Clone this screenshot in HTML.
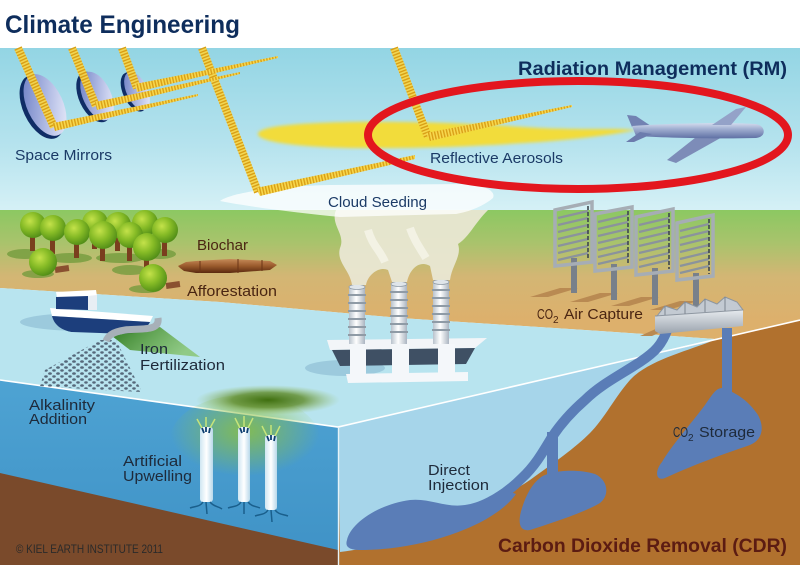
<!DOCTYPE html>
<html><head><meta charset="utf-8"><style>
html,body{margin:0;padding:0;background:#fff;}
svg{display:block;}
text{font-family:"Liberation Sans",sans-serif;}
</style></head><body>
<svg width="800" height="565" viewBox="0 0 800 565" xmlns="http://www.w3.org/2000/svg">
<defs>
  <linearGradient id="sky" x1="0" y1="48" x2="0" y2="212" gradientUnits="userSpaceOnUse">
    <stop offset="0" stop-color="#93d5e4"/><stop offset="0.6" stop-color="#b6e3ee"/><stop offset="1" stop-color="#d6f1f6"/>
  </linearGradient>
  <linearGradient id="land" x1="0" y1="210" x2="0" y2="320" gradientUnits="userSpaceOnUse">
    <stop offset="0" stop-color="#8cc862"/><stop offset="0.3" stop-color="#a9c36c"/><stop offset="0.6" stop-color="#d3b674"/><stop offset="1" stop-color="#ddb06c"/>
  </linearGradient>
  <linearGradient id="leftface" x1="0" y1="380" x2="0" y2="560" gradientUnits="userSpaceOnUse">
    <stop offset="0" stop-color="#4ea3d3"/><stop offset="1" stop-color="#3f92c6"/>
  </linearGradient>
  <linearGradient id="mir" x1="0" y1="0" x2="1" y2="1">
    <stop offset="0" stop-color="#6276c0"/><stop offset="0.7" stop-color="#c9d0ee"/><stop offset="1" stop-color="#f2f4fc"/>
  </linearGradient>
  <radialGradient id="canopy" cx="0.38" cy="0.35" r="0.7">
    <stop offset="0" stop-color="#c4e24a"/><stop offset="0.5" stop-color="#86bb26"/><stop offset="1" stop-color="#4d8a16"/>
  </radialGradient>
  <linearGradient id="plane" x1="0" y1="0" x2="0" y2="1">
    <stop offset="0" stop-color="#d3dbee"/><stop offset="0.4" stop-color="#9eaccf"/><stop offset="1" stop-color="#5f70a4"/>
  </linearGradient>
  <radialGradient id="algae" cx="0.5" cy="0.5" r="0.5">
    <stop offset="0" stop-color="#3f6f10"/><stop offset="0.5" stop-color="#5f8a26" stop-opacity="0.8"/><stop offset="1" stop-color="#9cc060" stop-opacity="0"/>
  </radialGradient>
  <radialGradient id="glow" cx="0.5" cy="0.4" r="0.5">
    <stop offset="0" stop-color="#8cc040" stop-opacity="0.85"/><stop offset="1" stop-color="#8cc040" stop-opacity="0"/>
  </radialGradient>
  <linearGradient id="pipeW" x1="0" y1="0" x2="1" y2="0">
    <stop offset="0" stop-color="#cfe6f2"/><stop offset="0.5" stop-color="#ffffff"/><stop offset="1" stop-color="#b8d8ea"/>
  </linearGradient>
  <linearGradient id="chim" x1="0" y1="0" x2="1" y2="0">
    <stop offset="0" stop-color="#b8c2cc"/><stop offset="0.45" stop-color="#ffffff"/><stop offset="1" stop-color="#aab4c0"/>
  </linearGradient>
  <linearGradient id="log" x1="0" y1="0" x2="0" y2="1">
    <stop offset="0" stop-color="#c58a58"/><stop offset="0.5" stop-color="#9a5a2c"/><stop offset="1" stop-color="#5a2a10"/>
  </linearGradient>
  <linearGradient id="fert" x1="0" y1="0" x2="1" y2="0.4">
    <stop offset="0" stop-color="#2f7a22"/><stop offset="1" stop-color="#7fbf5a" stop-opacity="0.7"/>
  </linearGradient>
  <linearGradient id="bld" x1="0" y1="0" x2="0" y2="1">
    <stop offset="0" stop-color="#e6eaee"/><stop offset="1" stop-color="#9aa3ad"/>
  </linearGradient>
  <pattern id="stA" patternUnits="userSpaceOnUse" width="3" height="20" patternTransform="rotate(-13)">
    <rect width="3" height="20" fill="#f7d84e"/><rect width="1.4" height="20" fill="#d99f16"/>
  </pattern>
  <pattern id="dots" patternUnits="userSpaceOnUse" width="8" height="6">
    <ellipse cx="2" cy="1.5" rx="1.9" ry="1.3" fill="#56687a"/><ellipse cx="6" cy="4.5" rx="1.8" ry="1.2" fill="#56687a"/>
  </pattern>
  <filter id="blur1"><feGaussianBlur stdDeviation="1.5"/></filter>
</defs>

<rect x="0" y="0" width="800" height="565" fill="#ffffff"/>
<rect x="0" y="48" width="800" height="165" fill="url(#sky)"/>

<polygon points="0,210 800,210 800,320 715,339 600,331 400,318 220,302 0,288" fill="url(#land)"/>
<polygon points="0,288 220,302 400,318 600,331 715,339 338,427 0,380" fill="#b8e4ef"/>
<polygon points="0,380 338,427 338,565 0,565" fill="url(#leftface)"/>
<polygon points="0,473 338,550 338,565 0,565" fill="#7a4a2b"/>
<polygon points="338,427 800,320 800,565 338,565" fill="#b1712e"/>
<path d="M338,427 L712,341 C 690,350 650,360 632,378 C 618,392 605,418 590,433 C 575,448 555,462 530,480 C 512,492 480,510 447,527 C 420,538 390,545 340,552 Z" fill="#a6d5ea"/>
<polyline points="0,380 338,427 800,320" fill="none" stroke="#ffffff" stroke-width="1.6"/>
<line x1="338.5" y1="427" x2="338.5" y2="565" stroke="#e6f3f8" stroke-width="1.4"/>

<path d="M668,328 C 662,345 655,352 640,362 C 620,375 600,385 585,400 C 570,413 560,425 552,437 C 543,452 535,466 522,478 C 512,488 505,493 497,498" fill="none" stroke="#5a7db7" stroke-width="10"/>
<path d="M347,540 C 350,525 375,505 410,500 C 430,498 445,508 465,505 C 480,503 492,495 502,489 L 516,494 C 505,510 480,525 450,535 C 420,545 390,550 360,550 C 348,550 345,546 347,540 Z" fill="#5a7db7"/>
<rect x="547" y="432" width="11" height="48" fill="#5a7db7"/>
<path d="M540,478 C 548,471 575,468 595,474 C 608,480 610,495 600,503 C 585,512 555,522 530,530 C 518,532 518,520 522,508 C 526,495 532,484 540,478 Z" fill="#5a7db7"/>
<rect x="722" y="328" width="10" height="64" fill="#5a7db7"/>
<path d="M722,388 C 735,392 748,400 758,415 C 765,428 762,440 750,445 C 730,452 700,462 665,478 C 655,482 655,470 662,462 C 672,445 690,425 705,405 C 712,395 716,388 722,388 Z" fill="#5a7db7"/>

<ellipse cx="245" cy="440" rx="75" ry="45" fill="url(#glow)"/>
<ellipse cx="268" cy="400" rx="72" ry="15" fill="url(#algae)"/>
<g>
  <rect x="200" y="427" width="13" height="75" rx="3" fill="url(#pipeW)"/>
  <rect x="238" y="427" width="12" height="75" rx="3" fill="url(#pipeW)"/>
  <rect x="265" y="435" width="12" height="75" rx="3" fill="url(#pipeW)"/>
  <g stroke="#c6e47a" stroke-width="1.5" fill="none">
    <path d="M202,428 L197,419 M206,427 L206,417 M210,428 L215,419"/>
    <path d="M240,428 L235,418 M244,427 L244,416 M248,428 L253,418"/>
    <path d="M267,436 L262,426 M271,435 L271,425 M275,436 L280,426"/>
  </g>
  <g stroke="#0f3f70" stroke-width="1.8" fill="none">
    <path d="M202,428 L204,433 M206,427 L206,432 M210,428 L209,433"/>
    <path d="M240,428 L242,433 M244,427 L244,432 M248,428 L247,433"/>
    <path d="M267,436 L269,441 M271,435 L271,440 M275,436 L274,441"/>
  </g>
  <g stroke="#1a5f8c" stroke-width="1.5" fill="none">
    <path d="M203,502 C 200,507 195,506 190,508 M206,502 L207,514 M210,502 C 214,507 218,506 222,509"/>
    <path d="M241,502 C 238,507 233,506 228,508 M244,502 L244,514 M248,502 C 252,507 256,506 260,508"/>
    <path d="M268,510 C 265,515 260,514 255,516 M271,510 L272,522 M275,510 C 279,515 283,514 288,516"/>
  </g>
</g>

<g fill="#b98a52">
  <polygon points="530,297 560,288 578,288 548,297"/>
  <polygon points="570,302 600,293 618,293 588,302"/>
  <polygon points="611,306 641,297 659,297 629,306"/>
  <polygon points="650,310 680,301 698,301 668,310"/>
  <polygon points="640,336 660,327 672,327 652,336"/>
</g>
<g>
  <g>
    <rect x="571" y="258" width="6" height="35" fill="#78808a"/>
    <polygon points="555,210 592,202 592,262 555,266" fill="none" stroke="#a6adb5" stroke-width="3.5"/>
    <g stroke="#8b939c" stroke-width="2.2"><line x1="558" y1="218" x2="588" y2="211"/><line x1="558" y1="225" x2="588" y2="218"/><line x1="558" y1="232" x2="588" y2="225"/><line x1="558" y1="239" x2="588" y2="232"/><line x1="558" y1="246" x2="588" y2="239"/><line x1="558" y1="253" x2="588" y2="246"/><line x1="558" y1="260" x2="588" y2="253"/></g>
    <line x1="588" y1="206" x2="588" y2="260" stroke="#3e464e" stroke-width="1.6" stroke-dasharray="4 2"/>
  </g>
  <g>
    <rect x="611" y="264" width="6" height="36" fill="#78808a"/>
    <polygon points="595,214 632,207 632,267 595,271" fill="none" stroke="#a6adb5" stroke-width="3.5"/>
    <g stroke="#8b939c" stroke-width="2.2"><line x1="598" y1="222" x2="628" y2="215"/><line x1="598" y1="229" x2="628" y2="222"/><line x1="598" y1="236" x2="628" y2="229"/><line x1="598" y1="243" x2="628" y2="236"/><line x1="598" y1="250" x2="628" y2="243"/><line x1="598" y1="257" x2="628" y2="250"/><line x1="598" y1="264" x2="628" y2="257"/></g>
    <line x1="628" y1="211" x2="628" y2="265" stroke="#3e464e" stroke-width="1.6" stroke-dasharray="4 2"/>
  </g>
  <g>
    <rect x="652" y="268" width="6" height="37" fill="#78808a"/>
    <polygon points="636,217 673,209 673,271 636,275" fill="none" stroke="#a6adb5" stroke-width="3.5"/>
    <g stroke="#8b939c" stroke-width="2.2"><line x1="639" y1="225" x2="669" y2="218"/><line x1="639" y1="232" x2="669" y2="225"/><line x1="639" y1="239" x2="669" y2="232"/><line x1="639" y1="246" x2="669" y2="239"/><line x1="639" y1="253" x2="669" y2="246"/><line x1="639" y1="260" x2="669" y2="253"/><line x1="639" y1="267" x2="669" y2="260"/></g>
    <line x1="669" y1="213" x2="669" y2="269" stroke="#3e464e" stroke-width="1.6" stroke-dasharray="4 2"/>
  </g>
  <g>
    <rect x="693" y="273" width="6" height="40" fill="#78808a"/>
    <polygon points="677,223 713,215 713,276 677,280" fill="none" stroke="#a6adb5" stroke-width="3.5"/>
    <g stroke="#8b939c" stroke-width="2.2"><line x1="680" y1="231" x2="709" y2="224"/><line x1="680" y1="238" x2="709" y2="231"/><line x1="680" y1="245" x2="709" y2="238"/><line x1="680" y1="252" x2="709" y2="245"/><line x1="680" y1="259" x2="709" y2="252"/><line x1="680" y1="266" x2="709" y2="259"/><line x1="680" y1="273" x2="709" y2="266"/></g>
    <line x1="709" y1="219" x2="709" y2="274" stroke="#3e464e" stroke-width="1.6" stroke-dasharray="4 2"/>
  </g>
  <polygon points="655,316 743,310 743,326 660,334 655,331" fill="url(#bld)"/>
  <path d="M657,316 L665,306 L677,310 L685,302 L697,307 L705,299 L717,304 L725,297 L737,302 L743,310 L655,316 Z" fill="#c3cad2" stroke="#8d96a0" stroke-width="1"/>
  <g stroke="#7d8690" stroke-width="1"><line x1="665" y1="306" x2="665" y2="315"/><line x1="685" y1="302" x2="685" y2="314"/><line x1="705" y1="299" x2="705" y2="312"/><line x1="725" y1="297" x2="725" y2="311"/></g>
</g>

<g>
  <g fill="#6f9a3a" opacity="0.75">
    <ellipse cx="25" cy="254" rx="18" ry="5"/><ellipse cx="70" cy="258" rx="22" ry="5"/><ellipse cx="120" cy="258" rx="24" ry="5"/>
    <ellipse cx="160" cy="254" rx="16" ry="5"/><ellipse cx="130" cy="270" rx="18" ry="5"/><ellipse cx="38" cy="274" rx="16" ry="4"/>
    <ellipse cx="145" cy="289" rx="16" ry="4"/>
  </g>
  <g fill="#7a3e1e">
    <rect x="92" y="229" width="5" height="20"/><rect x="142" y="229" width="5" height="20"/><rect x="30" y="231" width="5" height="20"/>
    <rect x="115" y="231" width="5" height="20"/><rect x="50" y="234" width="5" height="20"/><rect x="162" y="236" width="5" height="20"/>
    <rect x="74" y="238" width="5" height="20"/><rect x="100" y="241" width="5" height="20"/><rect x="127" y="241" width="5" height="20"/>
    <rect x="144" y="253" width="5" height="17"/>
  </g>
  <g fill="#8a5030"><rect x="55" y="266" width="14" height="6" transform="rotate(-8 62 269)"/><rect x="166" y="282" width="14" height="6" transform="rotate(-8 173 285)"/></g>
  <g fill="url(#canopy)">
    <circle cx="95" cy="223" r="13"/><circle cx="145" cy="223" r="13"/><circle cx="33" cy="225" r="13"/><circle cx="118" cy="225" r="13"/>
    <circle cx="53" cy="228" r="13"/><circle cx="165" cy="230" r="13"/><circle cx="77" cy="232" r="13"/><circle cx="103" cy="235" r="14"/>
    <circle cx="130" cy="235" r="13"/><circle cx="147" cy="247" r="14"/><circle cx="43" cy="262" r="14"/><circle cx="153" cy="278" r="14"/>
  </g>
</g>
<path d="M178,266 L186,262 L196,261 L230,259 L270,261 L277,265 L270,270 L230,273 L196,273 L184,271 L180,268 Z" fill="url(#log)"/>
<g stroke="#6a3415" stroke-width="1"><line x1="200" y1="261" x2="200" y2="273"/><line x1="238" y1="259" x2="238" y2="273"/><line x1="262" y1="260" x2="262" y2="271"/></g>

<ellipse cx="85" cy="322" rx="65" ry="9" fill="#9ccadd"/>
<path d="M50,308 L153,316 L150,322 L52,316 Z" fill="#ffffff"/>
<path d="M52,316 L150,322 C 146,330 138,333 128,334 L 72,332 C 60,330 54,324 52,316 Z" fill="#1c3e7c"/>
<polygon points="56,292 96,290 97,296 57,298" fill="#ffffff"/>
<polygon points="56,297 88,296 88,310 56,309" fill="#1c3e7c"/>
<polygon points="88,296 97,295 97,310 88,310" fill="#e8eef4"/>
<polygon points="112,336 160,327 200,357 130,350" fill="url(#fert)"/>
<polygon points="100,340 116,340 142,392 100,390 40,386 45,370" fill="url(#dots)"/>
<path d="M158,318 C 160,332 140,328 125,330 C 112,332 108,336 106,341" fill="none" stroke="#a7b0b8" stroke-width="7"/>

<ellipse cx="345" cy="368" rx="40" ry="8" fill="#9ccadd"/>
<polygon points="327,340 487,338 475,348 330,350" fill="#f2f5f8"/>
<polygon points="332,350 475,348 466,364 340,366" fill="#3f5064"/>
<g fill="#f4f7fa">
  <rect x="350" y="344" width="16" height="34"/><rect x="392" y="344" width="17" height="34"/><rect x="438" y="344" width="17" height="34"/>
  <polygon points="346,374 468,372 468,381 348,383"/>
</g>
<g>
  <rect x="349" y="286" width="16" height="58" fill="url(#chim)"/>
  <rect x="391" y="283" width="16" height="61" fill="url(#chim)"/>
  <rect x="433" y="281" width="16" height="63" fill="url(#chim)"/>
  <g fill="#dfe5ea" stroke="#8f9ba6" stroke-width="0.8">
    <ellipse cx="357" cy="287" rx="8" ry="2.5"/><ellipse cx="399" cy="284" rx="8" ry="2.5"/><ellipse cx="441" cy="282" rx="8" ry="2.5"/>
  </g>
  <g fill="none" stroke="#8f9ba6" stroke-width="2">
    <path d="M348,295 h18 M348,303 h18 M348,311 h18 M348,319 h18 M348,327 h18 M348,335 h18"/>
    <path d="M390,292 h18 M390,300 h18 M390,308 h18 M390,316 h18 M390,324 h18 M390,332 h18"/>
    <path d="M432,290 h18 M432,298 h18 M432,306 h18 M432,314 h18 M432,322 h18 M432,330 h18"/>
  </g>
</g>

<path d="M336,210 C 330,225 346,234 340,248 C 336,262 350,270 352,285 L 366,285 C 368,274 380,266 388,270 L 392,282 L 407,282 C 410,268 420,260 430,266 L 433,280 L 450,280 C 452,265 462,256 458,244 C 470,236 474,224 488,210 Z" fill="#e9e7d3" opacity="0.95"/>
<path d="M368,230 C 372,245 380,250 385,262 M410,228 C 414,240 420,248 426,258" stroke="#f6f5ea" stroke-width="8" fill="none" opacity="0.8"/>
<path d="M220,201 C 232,192 280,186 330,185 L 470,184 C 485,186 496,191 493,198 C 485,205 470,212 455,214 L 340,217 C 300,213 250,207 220,201 Z" fill="#ffffff" opacity="0.75"/>

<path d="M258,134 C 258,126 300,123 350,122 C 420,121 480,124 540,128 C 590,130 615,128 636,130 C 615,134 590,138 540,142 C 480,146 420,149 350,148 C 300,147 258,142 258,134 Z" fill="#f2dc3a" filter="url(#blur1)"/>

<g>
  <ellipse cx="42" cy="107" rx="19" ry="34" transform="rotate(-25 42 107)" fill="#0f2d66"/>
  <ellipse cx="45" cy="105" rx="18" ry="33" transform="rotate(-25 45 105)" fill="url(#mir)"/>
  <ellipse cx="94" cy="97" rx="15" ry="27" transform="rotate(-25 94 97)" fill="#0f2d66"/>
  <ellipse cx="97" cy="96" rx="14" ry="26" transform="rotate(-25 97 96)" fill="url(#mir)"/>
  <ellipse cx="134" cy="92" rx="11" ry="21" transform="rotate(-25 134 92)" fill="#0f2d66"/>
  <ellipse cx="137" cy="91" rx="10.5" ry="20.5" transform="rotate(-25 137 91)" fill="url(#mir)"/>
</g>

<g>
  <g stroke="#f6d64b" stroke-width="8" fill="none" opacity="0.95">
    <line x1="18" y1="48" x2="54" y2="127"/><line x1="72" y1="48" x2="96" y2="106"/><line x1="122" y1="48" x2="137" y2="88"/>
    <line x1="202" y1="48" x2="258" y2="192"/><line x1="394" y1="48" x2="428" y2="137"/>
  </g>
  <g stroke="#d99f16" stroke-width="8" fill="none" stroke-dasharray="1.4 1.6">
    <line x1="18" y1="48" x2="54" y2="127"/><line x1="72" y1="48" x2="96" y2="106"/><line x1="122" y1="48" x2="137" y2="88"/>
    <line x1="202" y1="48" x2="258" y2="192"/><line x1="394" y1="48" x2="428" y2="137"/>
  </g>
  <g fill="url(#stA)">
    <polygon points="53,123 198,94 198,96 55,131"/>
    <polygon points="95,102 240,72 240,74 97,110"/>
    <polygon points="135,84 278,56 278,58 137,92"/>
    <polygon points="256,188 415,155 415,159 260,196"/>
    <polygon points="426,133 572,105 572,107 430,141"/>
  </g>
</g>

<g>
  <path d="M632,127 L627,115 L636,116 L651,126 Z" fill="#7282b2"/>
  <path d="M700,134 L667,160 L676,163 L724,136 Z" fill="#7d8cb8"/>
  <path d="M632,126 C 660,124 720,122 755,124 C 766,125 767,137 756,138 C 720,139 670,138 636,136 Z" fill="url(#plane)"/>
  <path d="M712,125 L736,109 L746,107 L731,125 Z" fill="#94a2c8"/>
  <path d="M640,132 L626,142 L634,142 L652,134 Z" fill="#6c7cad"/>
</g>

<ellipse cx="578" cy="135" rx="210" ry="54" fill="none" stroke="#e3161e" stroke-width="8"/>

<text x="5" y="33" font-size="25" font-weight="bold" fill="#0e2d5c" textLength="235" lengthAdjust="spacingAndGlyphs">Climate Engineering</text>
<text x="518" y="75" font-size="19" font-weight="bold" fill="#0e2d5c" textLength="269" lengthAdjust="spacingAndGlyphs">Radiation Management (RM)</text>
<text x="430" y="163" font-size="15" fill="#1b3a66" textLength="133" lengthAdjust="spacingAndGlyphs">Reflective Aerosols</text>
<text x="15" y="160" font-size="15" fill="#1b3a66" textLength="97" lengthAdjust="spacingAndGlyphs">Space Mirrors</text>
<text x="328" y="207" font-size="15" fill="#1b3a66" textLength="99" lengthAdjust="spacingAndGlyphs">Cloud Seeding</text>
<text x="197" y="250" font-size="15" fill="#4a2512" textLength="51" lengthAdjust="spacingAndGlyphs">Biochar</text>
<text x="187" y="296" font-size="15" fill="#4a2512" textLength="90" lengthAdjust="spacingAndGlyphs">Afforestation</text>
<text x="537" y="319" font-size="15" fill="#4a2512" textLength="16" lengthAdjust="spacingAndGlyphs">CO</text>
<text x="553" y="323" font-size="10" fill="#4a2512">2</text>
<text x="564" y="319" font-size="15" fill="#4a2512" textLength="79" lengthAdjust="spacingAndGlyphs">Air Capture</text>
<text x="140" y="354" font-size="15" fill="#1e2a3a" textLength="28" lengthAdjust="spacingAndGlyphs">Iron</text>
<text x="140" y="370" font-size="15" fill="#1e2a3a" textLength="85" lengthAdjust="spacingAndGlyphs">Fertilization</text>
<text x="29" y="410" font-size="15" fill="#1e2a3a" textLength="66" lengthAdjust="spacingAndGlyphs">Alkalinity</text>
<text x="29" y="424" font-size="15" fill="#1e2a3a" textLength="58" lengthAdjust="spacingAndGlyphs">Addition</text>
<text x="123" y="466" font-size="15" fill="#1e2a3a" textLength="59" lengthAdjust="spacingAndGlyphs">Artificial</text>
<text x="123" y="481" font-size="15" fill="#1e2a3a" textLength="69" lengthAdjust="spacingAndGlyphs">Upwelling</text>
<text x="428" y="475" font-size="15" fill="#1e2a3a" textLength="42" lengthAdjust="spacingAndGlyphs">Direct</text>
<text x="428" y="490" font-size="15" fill="#1e2a3a" textLength="61" lengthAdjust="spacingAndGlyphs">Injection</text>
<text x="673" y="437" font-size="15" fill="#1e2a3a" textLength="15" lengthAdjust="spacingAndGlyphs">CO</text>
<text x="688" y="441" font-size="10" fill="#1e2a3a">2</text>
<text x="699" y="437" font-size="15" fill="#1e2a3a" textLength="56" lengthAdjust="spacingAndGlyphs">Storage</text>
<text x="16" y="553" font-size="12" fill="#2a2a2a" textLength="147" lengthAdjust="spacingAndGlyphs">© KIEL EARTH INSTITUTE 2011</text>
<text x="498" y="552" font-size="19" font-weight="bold" fill="#5c1c12" textLength="289" lengthAdjust="spacingAndGlyphs">Carbon Dioxide Removal (CDR)</text>
</svg>
</body></html>
